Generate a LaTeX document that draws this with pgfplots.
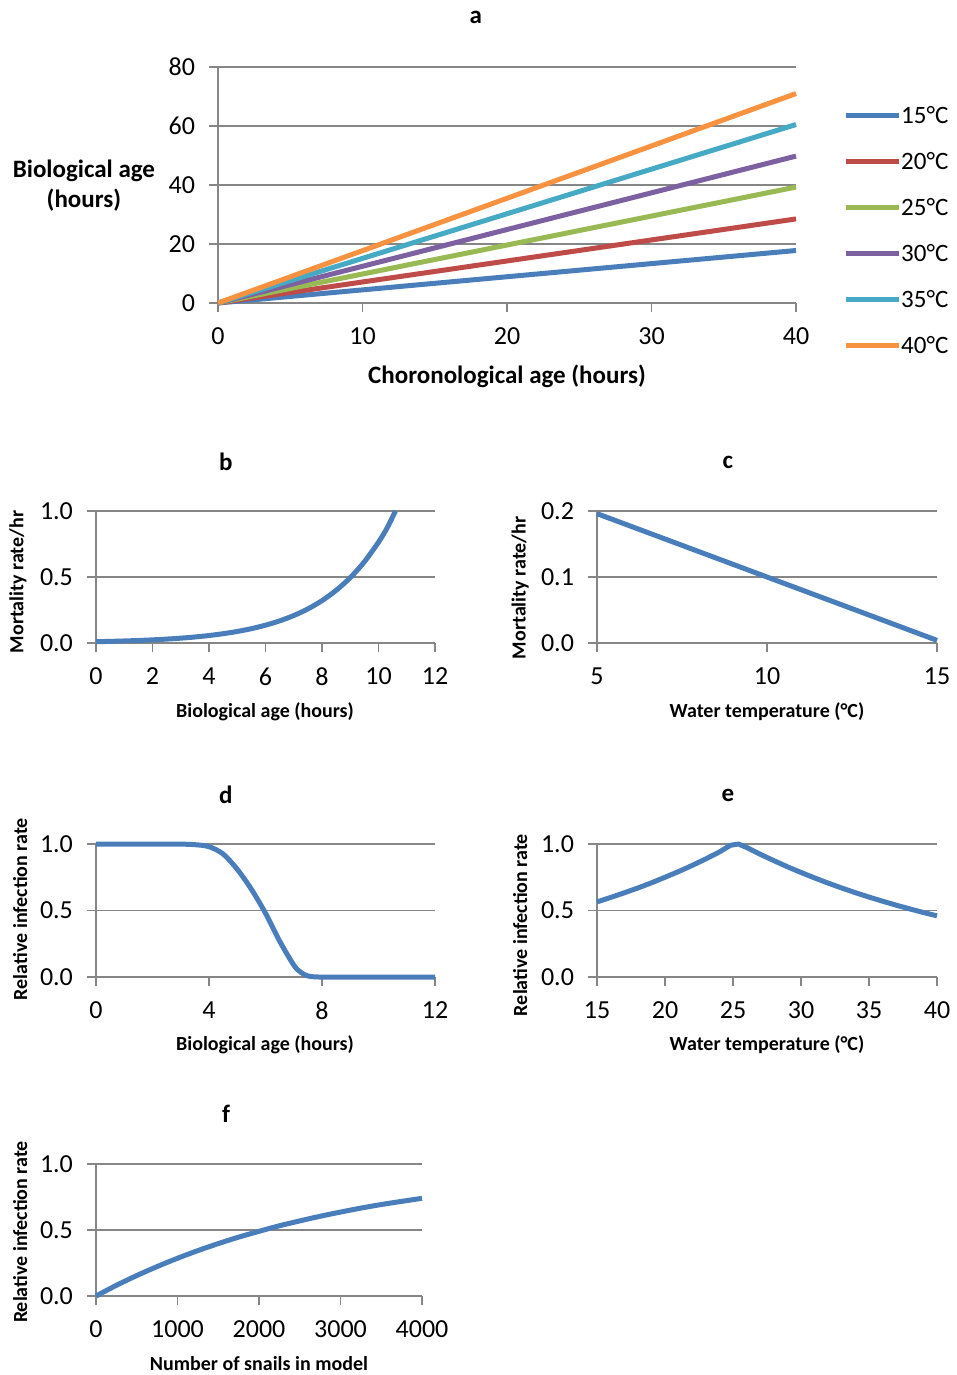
\documentclass[border=0pt]{standalone}
\usepackage{fontspec}
\setmainfont{Carlito}
\usepackage{pgfplots}
\pgfplotsset{compat=1.18}
\definecolor{axgray}{HTML}{868686}
\definecolor{c15}{HTML}{4A7EBB}
\definecolor{c20}{HTML}{BE4B48}
\definecolor{c25}{HTML}{98B954}
\definecolor{c30}{HTML}{7D60A0}
\definecolor{c35}{HTML}{46AAC5}
\definecolor{c40}{HTML}{F69240}
\pgfplotsset{
  excel/.style={
    scale only axis, clip=false,
    axis x line*=bottom, axis y line*=left,
    axis line style={draw=axgray, line width=0.75pt, -},
    ymajorgrids, grid style={draw=axgray, line width=0.75pt},
    tick align=outside, major tick length=4.5pt,
    tick style={draw=axgray, line width=0.75pt},
    ticklabel style={font=\fontsize{13}{15}\selectfont},
    xticklabel style={yshift=-4.5pt},
    yticklabel style={xshift=-3.5pt},
    title style={anchor=center, yshift=-6pt, font=\bfseries\fontsize{12.5}{15}\selectfont},
    xlabel style={anchor=center, font=\bfseries\fontsize{10}{12}\selectfont},
    ylabel style={anchor=center, font=\bfseries\fontsize{10}{12}\selectfont},
    every axis plot/.append style={line width=2.5pt, line join=round},
  }
}
\begin{document}
\begin{tikzpicture}
\path[use as bounding box] (0,0) rectangle (478.5pt,-687.5pt);
% ---------------- panel a
\begin{axis}[excel, at={(109pt,-151.5pt)}, anchor=south west,
  width=289pt, height=118pt,
  xmin=0, xmax=40, ymin=0, ymax=80,
  xtick={0,10,20,30,40}, xticklabels={0,10,20,30,40},
  ytick={0,20,40,60,80}, yticklabels={0,20,40,60,80},
  title={a}, title style={at={(axis description cs:0.446,1.212)}},
  xlabel={Choronological age (hours)},
  xlabel style={at={(axis description cs:0.5,-0.309)}, font=\bfseries\fontsize{12.5}{15}\selectfont},
  ylabel={Biological age\\(hours)},
  ylabel style={at={(axis description cs:-0.232,0.496)}, rotate=-90, align=center, font=\bfseries\fontsize{12.5}{15}\selectfont},
  legend style={at={(axis description cs:1.081,0.835)}, anchor=north west, draw=none, fill=none,
    inner sep=0pt, row sep=13pt, column sep=0pt, font=\fontsize{12.5}{14}\selectfont,
    nodes={inner sep=0pt, text height=8.5pt, text depth=1.5pt}},
  legend cell align=left,
  legend image code/.code={\draw[#1, line width=2.5pt] (0pt,0.3pt) -- (26.5pt,0.3pt);},
]
\addplot[c15] coordinates {(0,0) (40,17.8)};
\addplot[c20] coordinates {(0,0) (40,28.5)};
\addplot[c25] coordinates {(0,0) (40,39.3)};
\addplot[c30] coordinates {(0,0) (40,49.8)};
\addplot[c35] coordinates {(0,0) (40,60.5)};
\addplot[c40] coordinates {(0,0) (40,71.0)};
\legend{15°C,20°C,25°C,30°C,35°C,40°C}
\end{axis}
% ---------------- panel b
\begin{axis}[excel, at={(48pt,-321.5pt)}, anchor=south west,
  width=169.5pt, height=66pt,
  xmin=0, xmax=12, ymin=0, ymax=1,
  xtick={0,2,4,6,8,10,12}, xticklabels={0,2,4,6,8,10,12},
  ytick={0,0.5,1}, yticklabels={0.0,0.5,1.0},
  title={b}, title style={at={(axis description cs:0.383,1.371)}},
  xlabel={Biological age (hours)}, xlabel style={at={(axis description cs:0.4985,-0.523)}},
  ylabel={Mortality rate/hr}, ylabel style={at={(axis description cs:-0.230,0.462)}},
]
\addplot[c15, smooth] coordinates {(0,0.010) (0.5,0.0124) (1,0.0154) (1.5,0.0192) (2,0.0238) (2.5,0.0296) (3,0.0367) (3.5,0.0456) (4,0.0567) (4.5,0.0704) (5,0.0874) (5.5,0.1086) (6,0.1349) (6.5,0.1675) (7,0.2081) (7.5,0.2584) (8,0.321) (8.5,0.399) (9,0.495) (9.5,0.615) (10,0.764) (10.3,0.870) (10.6,1.0)};
\end{axis}
% ---------------- panel c
\begin{axis}[excel, at={(298.5pt,-321.5pt)}, anchor=south west,
  width=170pt, height=66pt,
  xmin=5, xmax=15, ymin=0, ymax=0.2,
  xtick={5,10,15}, xticklabels={5,10,15},
  ytick={0,0.1,0.2}, yticklabels={0.0,0.1,0.2},
  title={c}, title style={at={(axis description cs:0.385,1.371)}},
  xlabel={Water temperature (°C)}, xlabel style={at={(axis description cs:0.5,-0.523)}},
  ylabel={Mortality rate/hr}, ylabel style={at={(axis description cs:-0.226,0.417)}},
]
\addplot[c15] coordinates {(5,0.196) (10,0.100) (15,0.004)};
\end{axis}
% ---------------- panel d
\begin{axis}[excel, at={(48pt,-488.5pt)}, anchor=south west,
  width=169.5pt, height=66.5pt,
  xmin=0, xmax=12, ymin=0, ymax=1,
  xtick={0,4,8,12}, xticklabels={0,4,8,12},
  ytick={0,0.5,1}, yticklabels={0.0,0.5,1.0},
  title={d}, title style={at={(axis description cs:0.383,1.368)}},
  xlabel={Biological age (hours)}, xlabel style={at={(axis description cs:0.4985,-0.511)}},
  ylabel={Relative infection rate}, ylabel style={at={(axis description cs:-0.224,0.511)}},
]
\addplot[c15, smooth] coordinates {(0,1) (1,1) (2,1) (3,0.999) (3.5,0.995) (4,0.98) (4.5,0.925) (5,0.81) (5.5,0.66) (6,0.48) (6.5,0.27) (7,0.09) (7.25,0.035) (7.5,0.008) (7.75,0.001) (8,0) (9,0) (10,0) (11,0) (12,0)};
\end{axis}
% ---------------- panel e
\begin{axis}[excel, at={(298.5pt,-488.5pt)}, anchor=south west,
  width=170pt, height=66.5pt,
  xmin=15, xmax=40, ymin=0, ymax=1,
  xtick={15,20,25,30,35,40}, xticklabels={15,20,25,30,35,40},
  ytick={0,0.5,1}, yticklabels={0.0,0.5,1.0},
  title={e}, title style={at={(axis description cs:0.385,1.368)}},
  xlabel={Water temperature (°C)}, xlabel style={at={(axis description cs:0.5,-0.511)}},
  ylabel={Relative infection rate}, ylabel style={at={(axis description cs:-0.226,0.391)}},
]
\addplot[c15] coordinates {(15,0.565) (16,0.598) (17,0.633) (18,0.669) (19,0.708) (20,0.750) (21,0.793) (22,0.839) (23,0.888) (24,0.940) (24.8,0.99) (25.4,1.0) (26,0.974) (27,0.923) (28,0.875) (29,0.829) (30,0.786) (31,0.745) (32,0.706) (33,0.669) (34,0.634) (35,0.601) (36,0.570) (37,0.540) (38,0.512) (39,0.485) (40,0.460)};
\end{axis}
% ---------------- panel f
\begin{axis}[excel, at={(48pt,-648pt)}, anchor=south west,
  width=163pt, height=66pt,
  xmin=0, xmax=4000, ymin=0, ymax=1,
  xtick={0,1000,2000,3000,4000}, xticklabels={0,1000,2000,3000,4000},
  ytick={0,0.5,1}, yticklabels={0.0,0.5,1.0},
  title={f}, title style={at={(axis description cs:0.399,1.379)}},
  xlabel={Number of snails in model}, xlabel style={at={(axis description cs:0.5,-0.515)}},
  ylabel={Relative infection rate}, ylabel style={at={(axis description cs:-0.233,0.485)}},
]
\addplot[c15, smooth] coordinates {(0,0) (250,0.081) (500,0.155) (750,0.223) (1000,0.286) (1250,0.344) (1500,0.397) (1750,0.446) (2000,0.490) (2250,0.532) (2500,0.569) (2750,0.604) (3000,0.636) (3250,0.666) (3500,0.693) (3750,0.717) (4000,0.740)};
\end{axis}
\end{tikzpicture}
\end{document}
